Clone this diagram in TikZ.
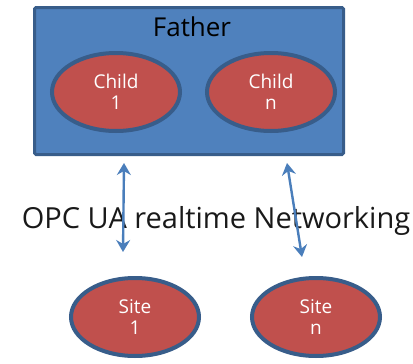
\documentclass[tikz,border=0pt]{standalone}
\usepackage{fontspec}
\setmainfont{Open Sans}
\usepackage{xcolor}
\usetikzlibrary{shapes.geometric, arrows.meta, positioning}

\definecolor{fatherfill}{HTML}{4F81BD}
\definecolor{edgeblue}{HTML}{385D8A}
\definecolor{childred}{HTML}{C0504D}
\definecolor{linkblue}{HTML}{4A7EBB}

\begin{document}
\begin{tikzpicture}[x=1pt, y=-1pt,
    fatherbox/.style={draw=edgeblue, line width=3pt, fill=fatherfill, rectangle, rounded corners=1.5pt, minimum width=309pt, minimum height=147pt, inner sep=0pt},
    unit/.style={draw=edgeblue, line width=4pt, fill=childred, ellipse, minimum width=128pt, minimum height=78pt, inner sep=0pt, align=center, text=white, font=\fontsize{19}{21}\selectfont},
    arrow/.style={{Stealth[length=12pt, width=14pt, inset=4pt]}-{Stealth[length=12pt, width=14pt, inset=4pt]}, line width=2.4pt, draw=linkblue}
]
\useasboundingbox (0,0) rectangle (413,364);

\node[fatherbox] (father) at (189, 81) {};
\node[font=\fontsize{26}{28}\selectfont, anchor=base] (fathertitle) at (192, 36) {Father};

\node[unit] (child1) at (116, 92) {Child\\1};
\node[unit] (childn) at (271, 92) {Child\\n};

\node[font=\fontsize{29}{32}\selectfont, text=black!90, anchor=base] (network) at (216, 228) {OPC UA realtime Networking};

\node[unit] (site1) at (135, 317) {Site\\1};
\node[unit] (siten) at (316, 317) {Site\\n};

% links between the father and the sites
\coordinate (up1) at (124, 163);
\coordinate (down1) at (123, 252);
\coordinate (upn) at (287, 163);
\coordinate (downn) at (302, 257);
\draw[arrow] (up1) -- (down1);
\draw[arrow] (upn) -- (downn);

\end{tikzpicture}
\end{document}
